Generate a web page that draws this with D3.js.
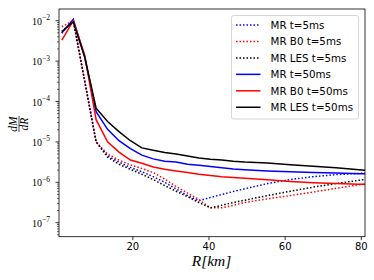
<!DOCTYPE html>
<html>
<head>
<meta charset="utf-8">
<script src="https://cdn.jsdelivr.net/npm/d3@7"></script>
<style>
body { margin: 0; background: #fff; }
</style>
</head>
<body>
<div class="container"></div>
<script>
// radius of each shell, km
const R = [1.5, 4.5, 7.5, 10.5, 13.5, 16.5, 19.5, 22.5, 25.5, 28.5, 31.5, 34.5, 37.5,
  40.5, 43.5, 46.5, 49.5, 55.5, 61.5, 67.5, 73.5, 79.5, 82.5];

// dM/dR at t = 5 ms
const mr5 = [4.9e-3, 1.07e-2, 3.2e-4, 1.0e-5, 4.5e-6, 3.16e-6, 2.34e-6, 1.82e-6, 1.38e-6, 1.0e-6,
  6.8e-7, 4.7e-7, 3.5e-7, 4.2e-7, 5.0e-7, 5.9e-7, 6.9e-7, 9.3e-7, 1.17e-6, 1.38e-6, 1.55e-6, 1.66e-6, 1.7e-6];
const b05 = [7.1e-3, 1.0e-2, 3.2e-4, 1.0e-5, 5.0e-6, 3.55e-6, 2.7e-6, 2.2e-6, 1.74e-6, 1.2e-6,
  7.9e-7, 5.4e-7, 3.7e-7, 2.34e-7, 2.34e-7, 2.7e-7, 3.16e-7, 3.9e-7, 4.7e-7, 5.75e-7, 7.1e-7, 8.7e-7, 9.3e-7];
const les5 = [5.4e-3, 1.0e-2, 3.2e-4, 1.0e-5, 4.2e-6, 2.8e-6, 2.1e-6, 1.58e-6, 1.17e-6, 8.3e-7,
  6.0e-7, 4.4e-7, 3.16e-7, 2.34e-7, 2.7e-7, 3.16e-7, 3.6e-7, 4.7e-7, 6.0e-7, 7.6e-7, 9.3e-7, 1.12e-6, 1.23e-6];

// dM/dR at t = 50 ms
const mr50 = [5.0e-3, 1.07e-2, 1.26e-3, 5.6e-5, 2.04e-5, 1.07e-5, 6.8e-6, 4.7e-6, 3.8e-6, 3.3e-6,
  3.16e-6, 2.8e-6, 2.63e-6, 2.45e-6, 2.3e-6, 2.14e-6, 2.04e-6, 1.9e-6, 1.82e-6, 1.74e-6, 1.7e-6, 1.62e-6, 1.62e-6];
const b050 = [3.3e-3, 1.0e-2, 1.41e-3, 3.55e-5, 1.0e-5, 5.6e-6, 3.55e-6, 2.95e-6, 2.4e-6, 2.1e-6,
  1.9e-6, 1.74e-6, 1.58e-6, 1.48e-6, 1.38e-6, 1.32e-6, 1.26e-6, 1.15e-6, 1.05e-6, 9.8e-7, 9.3e-7, 8.9e-7, 8.9e-7];
const les50 = [5.4e-3, 9.3e-3, 1.26e-3, 6.8e-5, 3.2e-5, 1.8e-5, 1.07e-5, 7.1e-6, 6.2e-6, 5.5e-6,
  5.0e-6, 4.5e-6, 4.0e-6, 3.7e-6, 3.55e-6, 3.3e-6, 3.16e-6, 3.0e-6, 2.7e-6, 2.5e-6, 2.3e-6, 2.05e-6, 1.95e-6];

const labels = ["MR t=5ms", "MR B0 t=5ms", "MR LES t=5ms", "MR t=50ms", "MR B0 t=50ms", "MR LES t=50ms"];
const colors = ["#0000ff", "#ff0000", "#000000", "#0000ff", "#ff0000", "#000000"];
const dashed = [true, true, true, false, false, false];
const series = [mr5, b05, les5, mr50, b050, les50];

const xTicks = [20, 40, 60, 80];
const yDecades = [-7, -6, -5, -4, -3, -2];

const width = 374;
const height = 280;
const m = { left: 59, right: 365, top: 9, bottom: 236.7 };

const x = d3.scaleLinear().domain([0.75, 81.1]).range([m.left, m.right]);
const y = d3.scaleLog().domain([4.5e-8, 1.95e-2]).range([m.bottom, m.top]);

const svg = d3.select(".container")
  .append("svg")
  .attr("width", width)
  .attr("height", height)
  .attr("viewBox", [0, 0, width, height]);

svg.append("defs").append("clipPath").attr("id", "plot")
  .append("rect")
  .attr("x", m.left).attr("y", m.top)
  .attr("width", m.right - m.left).attr("height", m.bottom - m.top);

const line = d3.line()
  .x((d, i) => x(R[i]))
  .y(d => y(d));

svg.append("g")
  .attr("clip-path", "url(#plot)")
  .selectAll("path")
  .data(series)
  .join("path")
  .attr("d", d => line(d))
  .attr("fill", "none")
  .attr("stroke", (d, i) => colors[i])
  .attr("stroke-width", 1.5)
  .attr("stroke-dasharray", (d, i) => dashed[i] ? "1.5,2" : null);

// x axis
const xAxis = svg.append("g")
  .attr("transform", `translate(0,${m.bottom})`)
  .call(d3.axisBottom(x).tickValues(xTicks).tickSize(3.5).tickPadding(3));
xAxis.select(".domain").remove();
xAxis.selectAll("line").attr("stroke", "#000").attr("stroke-width", 0.8);
xAxis.selectAll("text")
  .attr("font-family", "DejaVu Sans")
  .attr("font-size", 10)
  .attr("fill", "#000");

// y axis: minor ticks
const minor = [];
for (let e = -8; e <= -2; e++) {
  for (let k = 2; k <= 9; k++) {
    const v = k * Math.pow(10, e);
    if (v >= y.domain()[0] && v <= y.domain()[1]) minor.push(v);
  }
}
svg.append("g")
  .selectAll("line")
  .data(minor)
  .join("line")
  .attr("x1", m.left).attr("x2", m.left - 2)
  .attr("y1", d => y(d)).attr("y2", d => y(d))
  .attr("stroke", "#000").attr("stroke-width", 0.6);

const major = svg.append("g")
  .selectAll("g")
  .data(yDecades)
  .join("g")
  .attr("transform", d => `translate(0,${y(Math.pow(10, d))})`);
major.append("line")
  .attr("x1", m.left).attr("x2", m.left - 3.5)
  .attr("stroke", "#000").attr("stroke-width", 0.8);
const lab = major.append("text")
  .attr("x", 50)
  .attr("y", 4)
  .attr("text-anchor", "end")
  .attr("font-family", "Liberation Serif")
  .attr("font-size", 10)
  .attr("fill", "#000");
lab.append("tspan").text("10");
lab.append("tspan").attr("dy", -4.5).attr("font-size", 7.5).text(d => "\u2212" + (-d));

// spines
svg.append("rect")
  .attr("x", m.left).attr("y", m.top)
  .attr("width", m.right - m.left).attr("height", m.bottom - m.top)
  .attr("fill", "none")
  .attr("stroke", "#000")
  .attr("stroke-width", 0.8);

// axis labels
svg.append("text")
  .attr("x", 211.5).attr("y", 266)
  .attr("text-anchor", "middle")
  .attr("font-family", "Liberation Serif")
  .attr("font-size", 15.5)
  .attr("font-style", "italic")
  .text("R[km]");

const yl = svg.append("g").attr("transform", "translate(19,124) rotate(-90)");
yl.append("text").attr("x", 0).attr("y", -2)
  .attr("text-anchor", "middle")
  .attr("font-family", "Liberation Serif").attr("font-style", "italic").attr("font-size", 11.5)
  .text("dM");
yl.append("line").attr("x1", -8).attr("x2", 8).attr("y1", 0).attr("y2", 0)
  .attr("stroke", "#000").attr("stroke-width", 0.7);
yl.append("text").attr("x", 0).attr("y", 8.5)
  .attr("text-anchor", "middle")
  .attr("font-family", "Liberation Serif").attr("font-style", "italic").attr("font-size", 11.5)
  .text("dR");

// legend
const legend = svg.append("g");
legend.append("rect")
  .attr("x", 231.5).attr("y", 15.5)
  .attr("width", 127).attr("height", 103.5)
  .attr("rx", 2)
  .attr("fill", "#fff").attr("fill-opacity", 0.8)
  .attr("stroke", "#ccc").attr("stroke-width", 0.8);
const rows = legend.selectAll("g.row")
  .data(labels)
  .join("g")
  .attr("class", "row")
  .attr("transform", (d, i) => `translate(0,${25 + i * 16.45})`);
rows.append("line")
  .attr("x1", 236).attr("x2", 260.5)
  .attr("stroke", (d, i) => colors[i])
  .attr("stroke-width", 1.5)
  .attr("stroke-dasharray", (d, i) => dashed[i] ? "1.5,2" : null);
rows.append("text")
  .attr("x", 270.5).attr("y", 3.7)
  .attr("font-family", "DejaVu Sans")
  .attr("font-size", 10.3)
  .attr("fill", "#000")
  .text(d => d);
</script>
</body>
</html>
